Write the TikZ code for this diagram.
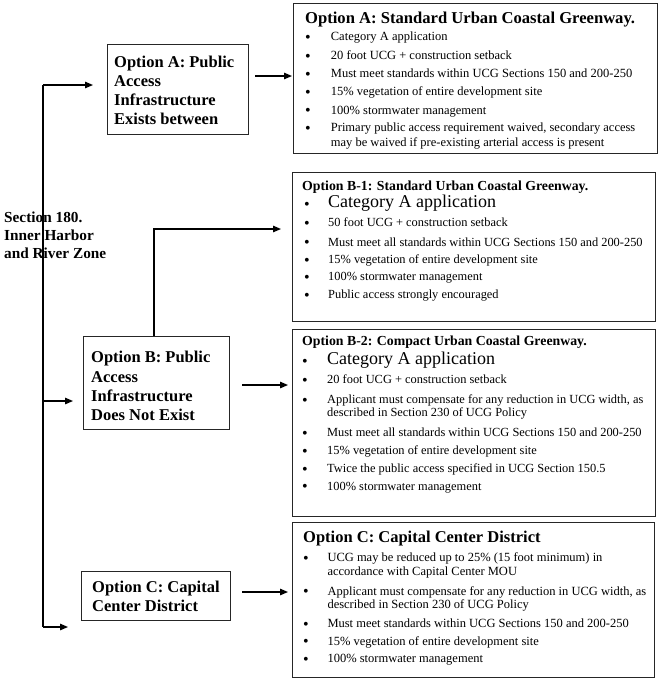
\documentclass[tikz,border=0pt]{standalone}
\usepackage{fontspec}
\setmainfont{Liberation Serif}
\usetikzlibrary{arrows.meta}
\newcommand\bitem[5]{\node[bu] (#1b) at (#2,#4) {\textbullet}; \node[it] (#1) at (#3,#4) {#5};}
\begin{document}
\begin{tikzpicture}[x=1pt,y=-1pt,
  frame/.style={draw=black!85, line width=0.9pt, inner sep=0pt, anchor=north west},
  lt/.style={font=\fontsize{16.5}{19}\selectfont\bfseries, anchor=base west, inner sep=0pt},
  bu/.style={anchor=base, inner sep=0pt, yshift=-1.8pt, font=\fontsize{16}{16}\selectfont},
  it/.style={anchor=base west, inner sep=0pt},
  ttl/.style={anchor=base west, inner sep=0pt, font=\bfseries},
  arr/.style={line width=1.3pt, -{Triangle[length=8pt,width=6.5pt]}},
  ln/.style={line width=1.3pt}]
\useasboundingbox (0,0) rectangle (660,681);
% section text
\node[lt,font=\fontsize{15.3}{18}\selectfont\bfseries] (s1) at (4,222) {Section 180.};
\node[lt,font=\fontsize{15.3}{18}\selectfont\bfseries] (s2) at (4,240) {Inner Harbor};
\node[lt,font=\fontsize{15.3}{18}\selectfont\bfseries] (s3) at (4,258) {and River Zone};
% left boxes
\node[frame, minimum width=141pt, minimum height=90pt] (boxA) at (107,44) {};
\node[lt] (a1) at (114,67.7) {Option A: Public};
\node[lt] (a2) at (114,86.7) {Access};
\node[lt] (a3) at (114,105.5) {Infrastructure};
\node[lt] (a4) at (114,124.3) {Exists between};
\node[frame, minimum width=146pt, minimum height=93pt] (boxB) at (83,336) {};
\node[lt] (b1) at (91,362.7) {Option B: Public};
\node[lt] (b2) at (91,382) {Access};
\node[lt] (b3) at (91,401) {Infrastructure};
\node[lt] (b4) at (91,420) {Does Not Exist};
\node[frame, minimum width=149pt, minimum height=49pt] (boxC) at (81,571) {};
\node[lt] (c1) at (92,592) {Option C: Capital};
\node[lt] (c2) at (92,611) {Center District};
% detail boxes
\node[frame, minimum width=364pt, minimum height=150pt] (detA) at (293,3) {};
\node[frame, minimum width=363pt, minimum height=149pt] (detB1) at (292,171.5) {};
\node[frame, minimum width=363pt, minimum height=187pt] (detB2) at (291.5,329) {};
\node[frame, minimum width=362pt, minimum height=155pt] (detC) at (292,522) {};
% detail A
\node[ttl,font=\fontsize{16.6}{20}\selectfont\bfseries] (tA) at (305,23.3) {Option A: Standard Urban Coastal Greenway.};
\begin{scope}[font=\fontsize{12.5}{15}\selectfont]
\bitem{dA1}{308}{330.7}{40.7}{Category A application}
\bitem{dA2}{308}{330.7}{59.3}{20 foot UCG + construction setback}
\bitem{dA3}{308}{330.7}{77.7}{Must meet standards within UCG Sections 150 and 200-250}
\bitem{dA4}{308}{330.7}{95.7}{15\% vegetation of entire development site}
\bitem{dA5}{308}{330.7}{114}{100\% stormwater management}
\bitem{dA6}{308}{330.7}{131.7}{Primary public access requirement waived, secondary access}
\node[it] (dA6b2) at (330.7,146.7) {may be waived if pre-existing arterial access is present};
\end{scope}
% detail B1
\node[ttl,font=\fontsize{13.8}{17}\selectfont\bfseries] (tB1) at (302,190) {Option B-1: Standard Urban Coastal Greenway.};
\begin{scope}[font=\fontsize{12.4}{15}\selectfont]
\bitem{dB11}{307}{328}{207.7}{\fontsize{18}{20}\selectfont Category A application}
\bitem{dB12}{307}{328}{226.7}{50 foot UCG + construction setback}
\bitem{dB13}{307}{328}{246}{Must meet all standards within UCG Sections 150 and 200-250}
\bitem{dB14}{307}{328}{263.3}{15\% vegetation of entire development site}
\bitem{dB15}{307}{328}{280.7}{100\% stormwater management}
\bitem{dB16}{307}{328}{298.3}{Public access strongly encouraged}
\end{scope}
% detail B2
\node[ttl,font=\fontsize{13.8}{17}\selectfont\bfseries] (tB2) at (302,345.7) {Option B-2: Compact Urban Coastal Greenway.};
\begin{scope}[font=\fontsize{12.4}{15}\selectfont]
\bitem{dB21}{305}{327}{364.3}{\fontsize{18}{20}\selectfont Category A application}
\bitem{dB22}{305}{327}{383.3}{20 foot UCG + construction setback}
\bitem{dB23}{305}{327}{403.3}{Applicant must compensate for any reduction in UCG width, as}
\node[it] (dB23b2) at (327,416.7) {described in Section 230 of UCG Policy};
\bitem{dB24}{305}{327}{436.7}{Must meet all standards within UCG Sections 150 and 200-250}
\bitem{dB25}{305}{327}{454.3}{15\% vegetation of entire development site}
\bitem{dB26}{305}{327}{472.3}{Twice the public access specified in UCG Section 150.5}
\bitem{dB27}{305}{327}{490}{100\% stormwater management}
\end{scope}
% detail C
\node[ttl,font=\fontsize{16.5}{20}\selectfont\bfseries] (tC) at (303,542.3) {Option C: Capital Center District};
\begin{scope}[font=\fontsize{12.5}{15}\selectfont]
\bitem{dC1}{306}{327.3}{561.7}{UCG may be reduced up to 25\% (15 foot minimum) in}
\node[it] (dC1b2) at (327.3,575) {accordance with Capital Center MOU};
\bitem{dC2}{306}{327.3}{595}{Applicant must compensate for any reduction in UCG width, as}
\node[it] (dC2b2) at (327.3,608.3) {described in Section 230 of UCG Policy};
\bitem{dC3}{306}{327.3}{627.7}{Must meet standards within UCG Sections 150 and 200-250}
\bitem{dC4}{306}{327.3}{645}{15\% vegetation of entire development site}
\bitem{dC5}{306}{327.3}{662.7}{100\% stormwater management}
\end{scope}
% connectors
\coordinate (trTop) at (43,85);
\coordinate (trBot) at (43,627);
\coordinate (trB) at (43,401);
\coordinate (toA) at (93,85);
\coordinate (toB) at (73,401);
\coordinate (toC) at (68,627);
\draw[ln] (trTop) -- (trBot);
\draw[arr] (trTop) -- (toA);
\draw[arr] (trB) -- (toB);
\draw[arr] (trBot) -- (toC);
\coordinate (aOut) at (255,76);
\coordinate (aIn) at (292,76);
\draw[arr] (aOut) -- (aIn);
\coordinate (bUp) at (154,229);
\coordinate (b1In) at (281,229);
\draw[arr] (boxB.north -| bUp) -- (bUp) -- (b1In);
\coordinate (bOut) at (242,385);
\coordinate (b2In) at (288,385);
\draw[arr] (bOut) -- (b2In);
\coordinate (cOut) at (242,592);
\coordinate (cIn) at (288,592);
\draw[arr] (cOut) -- (cIn);
\end{tikzpicture}
\end{document}
